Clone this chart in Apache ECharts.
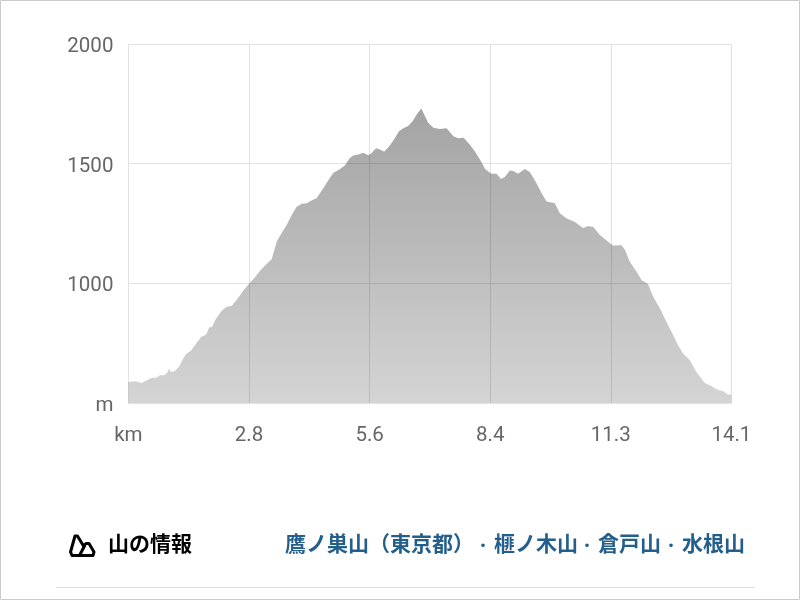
<!DOCTYPE html>
<html>
<head>
<meta charset="utf-8">
<style>
  html, body { margin: 0; padding: 0; background: #fff; }
  #main { width: 800px; height: 600px; }
</style>
<script src="https://cdn.jsdelivr.net/npm/echarts@6/dist/echarts.min.js"></script>
</head>
<body>
<div id="main"></div>
<script>
// course profile
const distanceKm = [0, .16, .31, .43, .55, .65, .74, .83, .91, .95, .99, 1.09, 1.19, 1.29, 1.36, 1.46, 1.56, 1.70, 1.82, 1.89, 1.95, 2.04, 2.18, 2.30, 2.41, 2.53, 2.70, 2.83, 2.96, 3.08, 3.23, 3.35, 3.47, 3.56, 3.70, 3.82, 3.93, 4.05, 4.17, 4.28, 4.40, 4.56, 4.67, 4.79, 4.95, 5.06, 5.18, 5.26, 5.38, 5.49, 5.61, 5.69, 5.79, 5.88, 5.98, 6.10, 6.21, 6.33, 6.43, 6.54, 6.65, 6.74, 6.85, 6.91, 7.01, 7.13, 7.28, 7.44, 7.60, 7.71, 7.84, 7.98, 8.10, 8.22, 8.34, 8.49, 8.61, 8.71, 8.80, 8.92, 9.00, 9.11, 9.27, 9.39, 9.54, 9.66, 9.78, 9.89, 9.97, 10.09, 10.24, 10.44, 10.63, 10.75, 10.87, 11.02, 11.18, 11.33, 11.53, 11.61, 11.72, 11.88, 12.00, 12.15, 12.27, 12.43, 12.58, 12.74, 12.85, 12.97, 13.13, 13.28, 13.48, 13.63, 13.75, 13.91, 14.02, 14.10];
const elevationM = [588, 591, 584, 595, 606, 605, 616, 616, 626, 644, 630, 634, 654, 688, 707, 718, 742, 776, 786, 816, 816, 849, 885, 902, 905, 930, 972, 1000, 1025, 1053, 1081, 1101, 1175, 1203, 1244, 1286, 1319, 1332, 1335, 1346, 1356, 1398, 1430, 1461, 1478, 1492, 1524, 1534, 1538, 1546, 1535, 1545, 1564, 1559, 1550, 1573, 1601, 1636, 1648, 1657, 1678, 1705, 1731, 1708, 1671, 1650, 1645, 1648, 1615, 1606, 1608, 1580, 1552, 1517, 1478, 1458, 1458, 1436, 1444, 1471, 1469, 1458, 1478, 1464, 1419, 1377, 1342, 1338, 1335, 1293, 1272, 1256, 1231, 1240, 1235, 1203, 1179, 1158, 1159, 1140, 1091, 1049, 1014, 997, 944, 895, 839, 783, 742, 707, 679, 630, 584, 571, 557, 549, 536, 536];
const xTickLabels = ['km', '2.8', '5.6', '8.4', '11.3', '14.1'];
const yTickLabels = ['m', '1000', '1500', '2000'];
const infoTitle = '山の情報';
const mountainNames = ['鷹ノ巣山（東京都）', '榧ノ木山', '倉戸山', '水根山'];

const labelFont = 'Roboto, "Noto Sans", sans-serif';
const jpFont = '"Noto Sans CJK JP", sans-serif';
const gridColor = '#e2e2e2';
const linkColor = '#245f8c';

const chart = echarts.init(document.getElementById('main'));

chart.setOption({
  animation: false,
  backgroundColor: '#fff',
  grid: { left: 128.4, top: 44, width: 603, height: 359 },
  xAxis: {
    type: 'value',
    min: 0,
    max: 14.1,
    interval: 2.82,
    axisLine: { show: false },
    axisTick: { show: false },
    splitLine: { show: true, lineStyle: { color: gridColor, width: 1 } },
    axisLabel: {
      color: '#666',
      fontFamily: labelFont,
      fontSize: 20.5,
      margin: 22,
      showMinLabel: true,
      showMaxLabel: true,
      formatter: (v) => xTickLabels[Math.round(v / 2.82)]
    }
  },
  yAxis: {
    type: 'value',
    min: 500,
    max: 2000,
    interval: 500,
    axisLine: { show: false },
    axisTick: { show: false },
    splitLine: { show: true, lineStyle: { color: gridColor, width: 1 } },
    axisLabel: {
      color: '#666',
      fontFamily: labelFont,
      fontSize: 20.5,
      margin: 15,
      verticalAlign: 'top',
      lineHeight: 6,
      formatter: (v) => yTickLabels[Math.round(v / 500) - 1]
    }
  },
  series: [
    {
      type: 'line',
      data: distanceKm.map((km, i) => [km, elevationM[i]]),
      showSymbol: false,
      lineStyle: { width: 0 },
      areaStyle: {
        origin: 'start',
        opacity: 1,
        color: new echarts.graphic.LinearGradient(0, 0, 0, 1, [
          { offset: 0, color: 'rgba(0,0,0,0.36)' },
          { offset: 1, color: 'rgba(0,0,0,0.17)' }
        ])
      },
      z: 3
    }
  ],
  graphic: [
    // mountain icon, big peak then small peak
    {
      type: 'polygon',
      shape: { points: [[75, 536], [77.5, 536], [83.5, 546], [86, 543.5], [89, 543.5], [94, 552], [93, 555.5], [72, 555.5], [70.5, 552]] },
      style: { fill: 'none', stroke: '#000', lineWidth: 3, lineJoin: 'round' }
    },
    {
      type: 'line',
      shape: { x1: 85, y1: 545, x2: 79.5, y2: 555.5 },
      style: { stroke: '#000', lineWidth: 3 }
    },
    { type: 'text', x: 108, y: 533, style: { text: infoTitle, fill: '#000', font: 'bold 21px ' + jpFont } },
    { type: 'text', x: 285, y: 533, style: { text: mountainNames[0], fill: linkColor, font: 'bold 21px ' + jpFont } },
    { type: 'text', x: 476, y: 538, style: { text: '・', fill: linkColor, font: 'bold 14px ' + jpFont } },
    { type: 'text', x: 494, y: 533, style: { text: mountainNames[1], fill: linkColor, font: 'bold 21px ' + jpFont } },
    { type: 'text', x: 580, y: 538, style: { text: '・', fill: linkColor, font: 'bold 14px ' + jpFont } },
    { type: 'text', x: 598, y: 533, style: { text: mountainNames[2], fill: linkColor, font: 'bold 21px ' + jpFont } },
    { type: 'text', x: 664, y: 538, style: { text: '・', fill: linkColor, font: 'bold 14px ' + jpFont } },
    { type: 'text', x: 682, y: 533, style: { text: mountainNames[3], fill: linkColor, font: 'bold 21px ' + jpFont } },
    // divider under the info row
    { type: 'line', shape: { x1: 56, y1: 587.5, x2: 754, y2: 587.5 }, style: { stroke: '#ddd', lineWidth: 1 } },
    // thin frame round the screenshot
    { type: 'rect', shape: { x: 0.5, y: 0.5, width: 799, height: 599 }, style: { fill: 'none', stroke: '#ccc', lineWidth: 1 } }
  ]
});
</script>
</body>
</html>
